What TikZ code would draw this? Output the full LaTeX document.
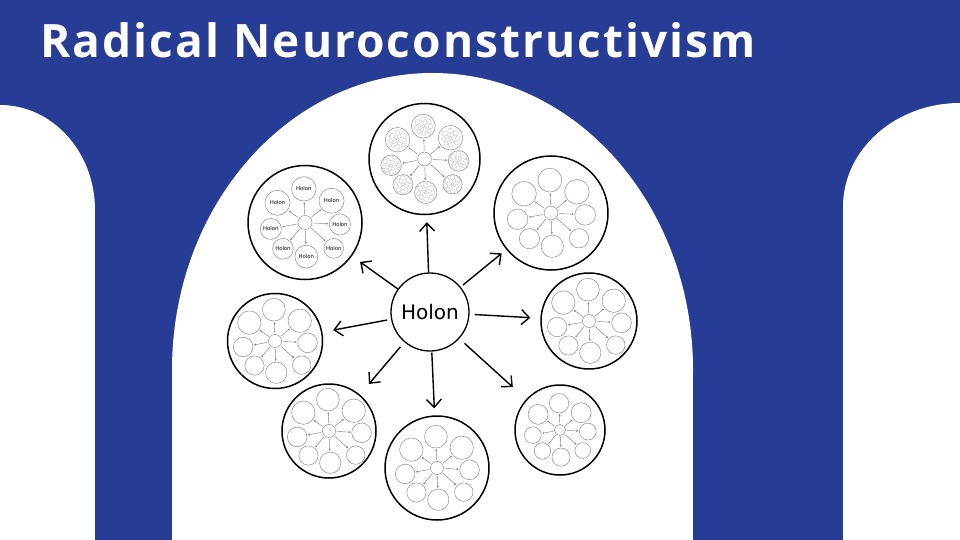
\documentclass[tikz,border=0pt]{standalone}
\usepackage{fontspec}
\setmainfont{DejaVu Sans}
\newfontfamily\titlefont{Open Sans}[LetterSpace=4.5]
\usetikzlibrary{arrows.meta,calc}
\definecolor{bgblue}{RGB}{39,60,149}
\tikzset{
  outerc/.style={circle, draw=black, line width=1.5pt, inner sep=0pt},
  holonc/.style={circle, draw=black, line width=1.3pt, inner sep=0pt, minimum size=78pt, font=\fontsize{20}{24}\selectfont},
  subc/.style={circle, draw=black!45, line width=0.5pt, inner sep=0pt, font=\fontsize{5.3}{6}\selectfont},
  tinyc/.style={circle, draw=black!35, line width=0.2pt, inner sep=0pt},
  mainarrow/.style={line width=1.4pt, -{Straight Barb[length=8pt,width=15pt]}},
  subarrow/.style={draw=black!50, line width=0.45pt, -{Stealth[length=2pt,width=2.2pt]}, shorten <=1pt, shorten >=1pt},
  tinyarrow/.style={draw=black!35, line width=0.2pt},
  titletext/.style={text=white, font=\titlefont\bfseries\fontsize{46}{50}\selectfont, inner sep=0pt, anchor=base west}
}
\newcommand\motiflist{-92/153/55.5,-144.4/154/57,-39.3/156/57,3.2/159/48,42/175.6/45,87.8/155/52,130/156/47,169.4/158/47.7}
\newcommand\tinymotif[3]{%
  \node[tinyc, minimum size={64*#3}] (#1c) at (#2) {};
  \foreach \ta/\td/\tr [count=\j] in \motiflist {
    \node[tinyc, minimum size={2*\tr*#3}] (#1s\j) at ($(#2)+(\ta:{\td*#3})$) {};
    \draw[tinyarrow] (#1c) -- (#1s\j);
  }%
}
\newcommand\holonmotif[5]{%
  \node[subc, minimum size={64*#4}] (#1c) at (#2,#3) {};
  \foreach \ma/\md/\mr [count=\i] in \motiflist {
    \node[subc, minimum size={2*\mr*#4}] (#1s\i) at ($(#2,#3)+(\ma:{\md*#4})$) {\ifnum#5=1 Holon\fi};
    \draw[subarrow] (#1c) -- (#1s\i);
    \ifnum#5=2 \tinymotif{#1s\i t}{#1s\i}{0.045}\fi
  }%
}
\begin{document}
\begin{tikzpicture}[x=1pt,y=-1pt]
  \useasboundingbox (0,0) rectangle (960,540);
  \clip (0,0) rectangle (960,540);
  % background
  \fill[bgblue] (0,0) rectangle (960,540);
  \fill[white] (0,210) ellipse [x radius=95pt, y radius=105pt];
  \fill[white] (0,210) rectangle (95,540);
  \fill[white] (960,207) ellipse [x radius=117pt, y radius=104pt];
  \fill[white] (843,207) rectangle (960,540);
  \fill[white] (432.5,370) ellipse [x radius=260.5pt, y radius=297pt];
  \fill[white] (172,370) rectangle (693,540);
  % title
  \node[titletext] (title) at (40,58) {Radical Neuroconstructivism};
  % central holon
  \node[holonc] (holon) at (430,312) {Holon};
  % outer circles
  \node[outerc, minimum size=111pt] (o1) at (424.5,159) {};
  \node[outerc, minimum size=114pt] (o2) at (305,222.5) {};
  \node[outerc, minimum size=114pt] (o3) at (551,213) {};
  \node[outerc, minimum size=96pt]  (o4) at (589,321) {};
  \node[outerc, minimum size=90pt]  (o5) at (560,430) {};
  \node[outerc, minimum size=104pt] (o6) at (437,468) {};
  \node[outerc, minimum size=94pt]  (o7) at (329,431) {};
  \node[outerc, minimum size=95pt]  (o8) at (275,341) {};
  % motifs
  \holonmotif{m1}{424.5}{159}{0.215}{2}
  \holonmotif{m2}{305}{222.5}{0.22}{1}
  \holonmotif{m3}{551}{213}{0.215}{0}
  \holonmotif{m4}{589}{321}{0.205}{0}
  \holonmotif{m5}{560}{430}{0.175}{0}
  \holonmotif{m6}{437}{468}{0.205}{0}
  \holonmotif{m7}{329}{431}{0.205}{0}
  \holonmotif{m8}{275}{341}{0.205}{0}
  % main arrows
  \draw[mainarrow, shorten <=0pt, shorten >=7pt] (holon) -- (o1);
  \draw[mainarrow, shorten <=0pt, shorten >=10pt] (holon) -- (o2);
  \draw[mainarrow, shorten <=3pt, shorten >=6pt] (holon) -- (o3);
  \draw[mainarrow, shorten <=5pt, shorten >=10pt] (holon) -- (o4);
  \draw[mainarrow, shorten <=7pt, shorten >=18pt] (holon) -- (o5);
  \draw[mainarrow, shorten <=1pt, shorten >=7pt] (holon) -- (o6);
  \draw[mainarrow, shorten <=6pt, shorten >=14pt] (holon) -- (o7);
  \draw[mainarrow, shorten <=4pt, shorten >=11pt] (holon) -- (o8);
\end{tikzpicture}
\end{document}
